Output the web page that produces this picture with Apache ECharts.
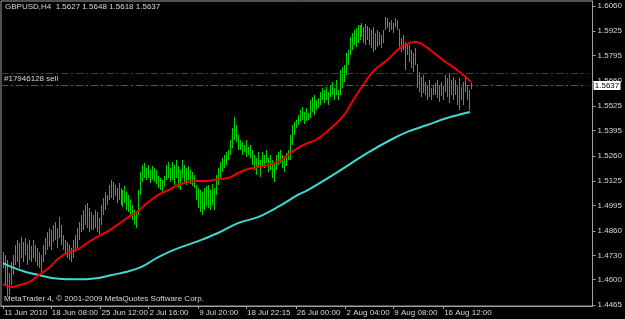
<!DOCTYPE html>
<html><head><meta charset="utf-8">
<script src="https://cdn.jsdelivr.net/npm/echarts@6/dist/echarts.min.js"></script>
<style>html,body{margin:0;padding:0;background:#000;}#c{width:625px;height:319px;}</style>
</head><body><div id="c"></div>
<script>
const FONT = "'Liberation Sans',Arial,sans-serif";

// H4 bars: highs and lows (GBPUSD)
const barHigh = [
1.4747,1.4731,1.4705,1.4636,1.4694,1.4731,1.4785,1.4812,1.4796,1.4828,
1.4801,1.4822,1.4790,1.4812,1.4780,1.4812,1.4785,1.4769,1.4747,1.4731,
1.4785,1.4822,1.4854,1.4876,1.4865,1.4892,1.4908,1.4876,1.4934,1.4892,
1.4838,1.4812,1.4801,1.4785,1.4769,1.4812,1.4838,1.4876,1.4908,1.4945,
1.4972,1.4998,1.5009,1.4982,1.4961,1.4945,1.4972,1.4961,1.4929,1.4998,
1.5036,1.5068,1.5052,1.5105,1.5132,1.5121,1.5105,1.5089,1.5116,1.5089,
1.5078,1.5100,1.5068,1.5052,1.5025,1.4998,1.4972,1.4961,1.5078,1.5174,
1.5212,1.5222,1.5196,1.5212,1.5185,1.5206,1.5196,1.5185,1.5153,1.5142,
1.5132,1.5153,1.5212,1.5228,1.5196,1.5228,1.5212,1.5238,1.5206,1.5185,
1.5238,1.5212,1.5196,1.5206,1.5185,1.5174,1.5158,1.5105,1.5089,1.5078,
1.5068,1.5089,1.5100,1.5105,1.5078,1.5110,1.5089,1.5158,1.5196,1.5228,
1.5249,1.5265,1.5281,1.5292,1.5345,1.5409,1.5468,1.5425,1.5372,1.5345,
1.5334,1.5318,1.5345,1.5308,1.5318,1.5292,1.5265,1.5249,1.5281,1.5238,
1.5281,1.5265,1.5292,1.5249,1.5265,1.5238,1.5228,1.5265,1.5281,1.5292,
1.5265,1.5254,1.5276,1.5292,1.5372,1.5425,1.5441,1.5452,1.5478,1.5505,
1.5521,1.5494,1.5516,1.5489,1.5558,1.5574,1.5585,1.5558,1.5569,1.5601,
1.5622,1.5612,1.5628,1.5601,1.5638,1.5654,1.5622,1.5665,1.5612,1.5718,
1.5734,1.5745,1.5809,1.5825,1.5894,1.5916,1.5932,1.5942,1.5958,1.5958,
1.5969,1.5948,1.5964,1.5953,1.5942,1.5932,1.5948,1.5916,1.5932,1.5921,
1.5905,1.5932,1.6001,1.5996,1.5974,1.5985,1.5969,1.5996,1.5985,1.5935,
1.5889,1.5905,1.5868,1.5862,1.5852,1.5825,1.5809,1.5836,1.5750,1.5708,
1.5681,1.5692,1.5654,1.5638,1.5665,1.5622,1.5638,1.5649,1.5665,1.5638,
1.5654,1.5633,1.5692,1.5676,1.5702,1.5665,1.5681,1.5665,1.5638,1.5676,
1.5628,1.5654,1.5681,1.5638,1.5612,1.5648
];
const barLow = [
1.4662,1.4571,1.4507,1.4518,1.4571,1.4625,1.4678,1.4694,1.4662,1.4715,
1.4694,1.4731,1.4678,1.4705,1.4694,1.4715,1.4694,1.4673,1.4662,1.4641,
1.4694,1.4731,1.4758,1.4774,1.4758,1.4801,1.4812,1.4769,1.4822,1.4785,
1.4758,1.4731,1.4715,1.4705,1.4694,1.4715,1.4747,1.4769,1.4812,1.4854,
1.4865,1.4892,1.4876,1.4854,1.4865,1.4865,1.4876,1.4854,1.4844,1.4892,
1.4945,1.4972,1.4998,1.5025,1.5036,1.5025,1.5046,1.5009,1.5025,1.4998,
1.4988,1.5009,1.4972,1.4961,1.4945,1.4918,1.4892,1.4876,1.4945,1.5052,
1.5121,1.5142,1.5132,1.5142,1.5116,1.5132,1.5121,1.5110,1.5089,1.5078,
1.5068,1.5100,1.5132,1.5142,1.5121,1.5132,1.5105,1.5142,1.5089,1.5078,
1.5142,1.5121,1.5105,1.5132,1.5110,1.5100,1.5089,1.5025,1.4982,1.4961,
1.4945,1.4972,1.4993,1.4982,1.4972,1.4998,1.4972,1.5052,1.5105,1.5142,
1.5174,1.5196,1.5212,1.5238,1.5265,1.5302,1.5345,1.5334,1.5292,1.5292,
1.5265,1.5281,1.5254,1.5265,1.5249,1.5212,1.5185,1.5158,1.5196,1.5148,
1.5212,1.5196,1.5222,1.5174,1.5185,1.5142,1.5121,1.5185,1.5212,1.5222,
1.5196,1.5174,1.5206,1.5238,1.5238,1.5318,1.5372,1.5409,1.5425,1.5441,
1.5452,1.5430,1.5446,1.5452,1.5462,1.5494,1.5478,1.5505,1.5516,1.5532,
1.5558,1.5542,1.5558,1.5532,1.5574,1.5585,1.5558,1.5585,1.5558,1.5585,
1.5622,1.5654,1.5692,1.5745,1.5798,1.5825,1.5852,1.5841,1.5862,1.5878,
1.5894,1.5862,1.5852,1.5878,1.5852,1.5836,1.5814,1.5825,1.5841,1.5852,
1.5836,1.5862,1.5932,1.5942,1.5921,1.5932,1.5916,1.5948,1.5932,1.5841,
1.5814,1.5825,1.5718,1.5798,1.5761,1.5729,1.5708,1.5745,1.5622,1.5601,
1.5574,1.5596,1.5585,1.5558,1.5574,1.5558,1.5585,1.5585,1.5569,1.5548,
1.5580,1.5558,1.5601,1.5574,1.5542,1.5585,1.5558,1.5585,1.5532,1.5505,
1.5558,1.5532,1.5601,1.5558,1.5505,1.5618
];

// Moving averages as [bar index, price]
const maRed = [
[0,1.4577],[4.5,1.4561],[8,1.4571],[13,1.4587],[18,1.4625],[23,1.4662],[28,1.4715],[33,1.4747],
[38,1.4764],[43,1.4801],[48,1.4833],[53,1.4860],[58,1.4897],[63,1.4934],[66.5,1.4956],[69.5,1.4982],
[73,1.5014],[78,1.5052],[83,1.5078],[88,1.5105],[93,1.5121],[98,1.5126],[103,1.5126],[108,1.5137],
[113,1.5142],[118,1.5169],[123,1.5190],[128,1.5201],[133,1.5212],[138,1.5228],[143,1.5265],[148,1.5302],
[153,1.5329],[157,1.5345],[163,1.5393],[168,1.5441],[172,1.5489],[176.5,1.5569],[181.5,1.5649],[186.5,1.5718],
[193,1.5772],[199.5,1.5836],[206.5,1.5868],[209.5,1.5862],[214.5,1.5825],[221.5,1.5766],[228,1.5718],[235,1.5654]
];
const maCyan = [
[0,1.4689],[4.5,1.4667],[11.5,1.4641],[18,1.4625],[24.5,1.4609],[31.5,1.4603],[41.5,1.4603],[48,1.4609],
[54.5,1.4625],[61.5,1.4641],[68,1.4662],[73,1.4689],[78,1.4721],[85.5,1.4758],[98,1.4806],[108,1.4849],
[118,1.4902],[128,1.4934],[138,1.4988],[148,1.5052],[153,1.5078],[168,1.5174],[183,1.5276],[194.5,1.5345],
[203,1.5388],[213,1.5425],[223,1.5462],[234.5,1.5494]
];

const yTicks = [1.4465,1.4600,1.4730,1.4860,1.4995,1.5125,1.5260,1.5395,1.5525,1.5660,1.5795,1.5925,1.6060];
const xTickBars = [0,24,49,73,98,122,147,172,196,221];
const xTickLabels = ['11 Jun 2010','18 Jun 08:00','25 Jun 12:00','2 Jul 16:00','9 Jul 20:00','18 Jul 22:15','26 Jul 00:00','2 Aug 04:00','9 Aug 08:00','16 Aug 12:00'];

const symbolName = 'GBPUSD,H4';
const quoteOHLC = [1.5627, 1.5648, 1.5618, 1.5637];
const bidPrice = 1.5637;
const orderPrice = 1.5637;
const orderLabel = '#17946128 sell';
const stopPrice = 1.5700;
const copyright = 'MetaTrader 4, \u00a9 2001-2009 MetaQuotes Software Corp.';

const TXT = '#d8d8d8';
const AX = '#a0a0a0';
const BAR = '#00d000';
const FS = 8;

const chart = echarts.init(document.getElementById('c'), null, {renderer: 'canvas'});
chart.setOption({
  animation: false,
  backgroundColor: '#000',
  title: [
    {text: symbolName + '  ' + quoteOHLC.map(v => v.toFixed(4)).join(' '), left: 5, top: 3, padding: 0,
     textStyle: {color: TXT, fontSize: FS, fontWeight: 'normal', fontFamily: FONT}},
    {text: copyright, left: 4, top: 295, padding: 0,
     textStyle: {color: TXT, fontSize: FS, fontWeight: 'normal', fontFamily: FONT}}
  ],
  grid: {left: 1, right: 29, top: 1, bottom: 13, show: true, borderColor: AX, borderWidth: 1, backgroundColor: 'transparent'},
  xAxis: {
    type: 'value', min: -1, max: 296,
    axisLine: {show: true, onZero: false, lineStyle: {color: AX}},
    axisTick: {show: true, customValues: xTickBars, length: 3, lineStyle: {color: AX}},
    axisLabel: {customValues: xTickBars, formatter: v => xTickLabels[xTickBars.indexOf(Math.round(v))] || '',
      showMinLabel: true, showMaxLabel: true, hideOverlap: false,
      align: 'left', color: TXT, fontSize: FS, fontFamily: FONT, margin: 3, padding: [0,0,0,1]},
    splitLine: {show: false}
  },
  yAxis: {
    type: 'value', position: 'right', min: 1.4460, max: 1.6086,
    axisLine: {show: true, onZero: false, lineStyle: {color: AX}},
    axisTick: {show: true, customValues: yTicks, length: 3, lineStyle: {color: AX}},
    axisLabel: {customValues: yTicks, formatter: v => v.toFixed(4), showMinLabel: true, showMaxLabel: true,
      color: TXT, fontSize: FS, fontFamily: FONT, margin: 5},
    splitLine: {show: false}
  },
  series: [
    {
      type: 'custom', name: 'bars', z: 2, silent: true,
      emphasis: {disabled: true},
      data: barHigh.map((h, i) => [i, h, barLow[i]]),
      encode: {x: 0, y: [1, 2]},
      renderItem: (params, api) => {
        const i = api.value(0);
        const hi = api.coord([i, api.value(1)]);
        const lo = api.coord([i, api.value(2)]);
        const x = Math.round(hi[0]);
        const top = Math.round(hi[1]);
        const bot = Math.round(lo[1]);
        return {type: 'rect', shape: {x: x, y: top, width: 1, height: Math.max(1, bot - top)},
          style: {fill: BAR, stroke: null, opacity: 1}};
      }
    },
    {
      type: 'line', name: 'MA slow', data: maCyan, smooth: 0.4, showSymbol: false, z: 3, silent: true,
      lineStyle: {color: '#40d8d0', width: 2}
    },
    {
      type: 'line', name: 'MA fast', data: maRed, smooth: 0.4, showSymbol: false, z: 4, silent: true,
      lineStyle: {color: '#f00000', width: 2},
      markLine: {
        silent: true, symbol: ['none', 'none'],
        label: {show: false},
        data: [
          [{coord: [-1, stopPrice], lineStyle: {color: '#c80000', type: [7, 3, 2, 3], width: 1, opacity: 1}}, {coord: [293, stopPrice]}],
          [{coord: [-1, orderPrice], lineStyle: {color: '#009000', type: [7, 3, 2, 3], width: 1, opacity: 1},
            label: {show: true, formatter: orderLabel, position: 'insideStartTop', distance: [3, 2],
              color: TXT, fontSize: FS, fontFamily: FONT}}, {coord: [293, orderPrice]}]
        ]
      }
    },
    {
      type: 'custom', name: 'bid', clip: false, z: 10, silent: true,
      data: [[296, bidPrice]],
      encode: {x: 0, y: 1},
      renderItem: (params, api) => {
        const pt = api.coord([api.value(0), api.value(1)]);
        const y = Math.round(pt[1]);
        return {type: 'group', children: [
          {type: 'rect', shape: {x: pt[0] + 1, y: y - 4, width: 27, height: 9}, style: {fill: '#fff'}},
          {type: 'text', style: {text: api.value(1).toFixed(4), x: pt[0] + 14.5, y: y + 0.5, align: 'center', verticalAlign: 'middle',
            fill: '#000', fontSize: FS, fontFamily: FONT}}
        ]};
      }
    }
  ]
});
</script></body></html>
